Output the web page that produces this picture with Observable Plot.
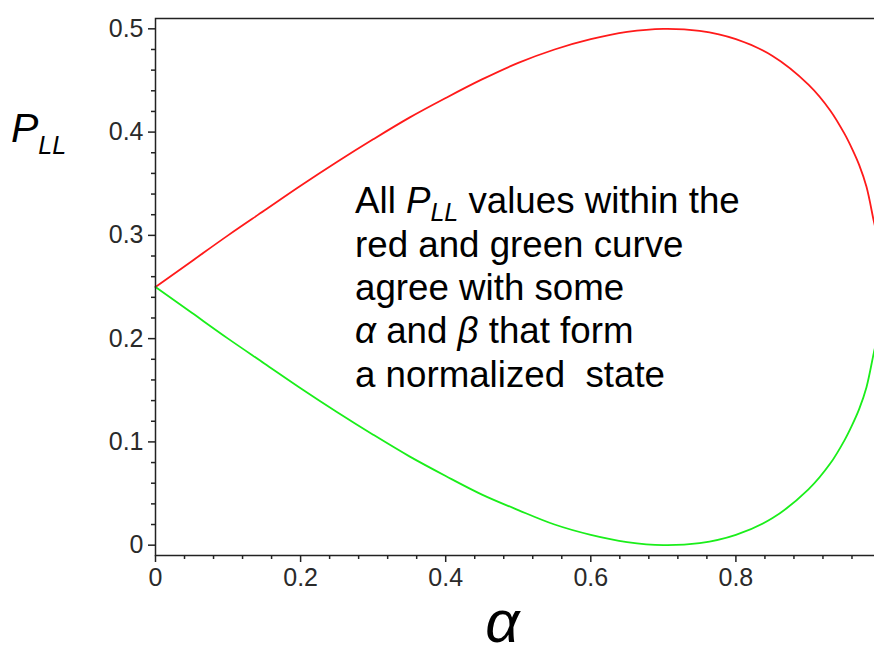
<!DOCTYPE html>
<html><head><meta charset="utf-8">
<script src="https://cdn.jsdelivr.net/npm/d3@7"></script>
<script src="https://cdn.jsdelivr.net/npm/@observablehq/plot@0.6"></script>
<style>
html,body{margin:0;padding:0;background:#fff;overflow:hidden;width:874px;height:649px}
#chart{position:relative;width:900px;height:649px}
</style>
</head><body><div id="chart"></div>
<script>
// values
const alpha  = [0, 0.05, 0.10, 0.15, 0.20, 0.25, 0.30, 0.35, 0.40, 0.45, 0.50, 0.55, 0.60, 0.65, 0.70, 0.75, 0.80, 0.85, 0.90, 0.93, 0.95, 0.96, 0.97, 0.98, 0.99, 0.995, 1.0];
const redP   = [0.250, 0.275, 0.300, 0.324, 0.348, 0.371, 0.393, 0.414, 0.433, 0.451, 0.467, 0.480, 0.490, 0.497, 0.500, 0.498, 0.490, 0.474, 0.446, 0.421, 0.398, 0.384, 0.368, 0.347, 0.314, 0.298, 0.250];
const greenP = [0.250, 0.225, 0.200, 0.176, 0.152, 0.129, 0.107, 0.086, 0.067, 0.049, 0.034, 0.020, 0.010, 0.003, 0.000, 0.002, 0.010, 0.026, 0.054, 0.079, 0.102, 0.116, 0.132, 0.153, 0.186, 0.202, 0.250];

const xTicks = [0, 0.2, 0.4, 0.6, 0.8, 1];
const xTickLabels = ["0", "0.2", "0.4", "0.6", "0.8", "1"];
const yTicks = [0, 0.1, 0.2, 0.3, 0.4, 0.5];
const yTickLabels = ["0", "0.1", "0.2", "0.3", "0.4", "0.5"];
const xMinorTicks = [0.04, 0.08, 0.12, 0.16, 0.24, 0.28, 0.32, 0.36, 0.44, 0.48, 0.52, 0.56, 0.64, 0.68, 0.72, 0.76, 0.84, 0.88, 0.92, 0.96];
const yMinorTicks = [0.02, 0.04, 0.06, 0.08, 0.12, 0.14, 0.16, 0.18, 0.22, 0.24, 0.26, 0.28, 0.32, 0.34, 0.36, 0.38, 0.42, 0.44, 0.46, 0.48];

const xLabel = "α";
const yLabelMain = "P";
const yLabelSub = "LL";

const redData = alpha.map((a, i) => ({a, p: redP[i]}));
const greenData = alpha.map((a, i) => ({a, p: greenP[i]}));

const font = "'Liberation Sans', Arial, sans-serif";

const plot = Plot.plot({
  width: 900,
  height: 649,
  marginLeft: 155,
  marginRight: 19.5,
  marginTop: 18,
  marginBottom: 94,
  x: {domain: [0, 1]},
  y: {domain: [-0.01, 0.51]},
  style: {fontFamily: font, background: "#fff", overflow: "visible"},
  marks: [
    Plot.axisY(yMinorTicks, {tickSize: 4, text: null, stroke: "#222", strokeWidth: 1.5, label: null}),
    Plot.axisY(yTicks, {tickSize: 7, tickPadding: 5, stroke: "#222", strokeWidth: 1.5, fill: "#2a2a2a", fontSize: 25,
      tickFormat: d => yTickLabels[yTicks.indexOf(d)], label: null}),
    Plot.axisX(xMinorTicks, {tickSize: 4, text: null, stroke: "#222", strokeWidth: 1.5, label: null}),
    Plot.axisX(xTicks, {tickSize: 7, tickPadding: 6, stroke: "#222", strokeWidth: 1.5, fill: "#2a2a2a", fontSize: 25,
      tickFormat: d => xTickLabels[xTicks.indexOf(d)], label: null}),
    Plot.line(redData, {x: "a", y: "p", stroke: "#ff1a1a", strokeWidth: 1.8, curve: "catmull-rom"}),
    Plot.line(greenData, {x: "a", y: "p", stroke: "#1aee1a", strokeWidth: 1.8, curve: "catmull-rom"}),
    Plot.frame({stroke: "#222", strokeWidth: 1.5}),
    Plot.text([xLabel], {text: d => d, frameAnchor: "bottom", dx: -16, dy: 86, lineAnchor: "bottom",
      fontSize: 60, fontStyle: "italic", fill: "#000"})
  ]
});

document.getElementById("chart").appendChild(plot);

const svg = d3.select(plot);
const xs = plot.scale("x"), ys = plot.scale("y");

// y-axis label P_LL
const yl = svg.append("text")
  .attr("x", 11).attr("y", 142).attr("text-anchor", "start")
  .attr("font-family", font).attr("font-size", 41).attr("font-style", "italic").attr("fill", "#000");
yl.append("tspan").text(yLabelMain);
yl.append("tspan").attr("font-size", 25).attr("dy", 12).text(yLabelSub);

// annotation
const annX = xs.apply(0.2757);
const annY0 = ys.apply(0.3208);
const lineStep = 43.3;
const ann = svg.append("g")
  .attr("font-family", font).attr("font-size", 36.7).attr("fill", "#000")
  .attr("text-anchor", "start")
  .style("white-space", "pre");

function line(i) {
  return ann.append("text").attr("x", annX).attr("y", annY0 + i * lineStep).attr("text-anchor", "start");
}
let t = line(0);
t.append("tspan").text("All ");
t.append("tspan").attr("font-style", "italic").text("P");
t.append("tspan").attr("font-style", "italic").attr("font-size", 25).attr("dy", 8).text("LL");
t.append("tspan").attr("dy", -8).text(" values within the");
line(1).text("red and green curve");
line(2).text("agree with some");
t = line(3);
t.append("tspan").attr("font-style", "italic").text("α");
t.append("tspan").text(" and ");
t.append("tspan").attr("font-style", "italic").text("β");
t.append("tspan").text(" that form");
line(4).text("a normalized  state");
</script>
</body></html>
